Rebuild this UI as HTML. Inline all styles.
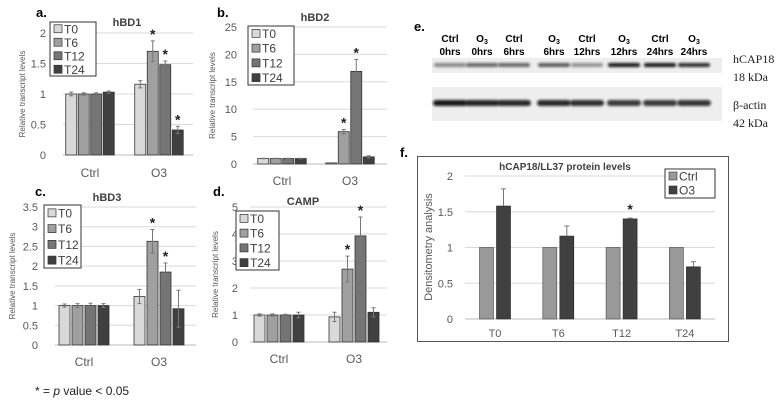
<!DOCTYPE html>
<html><head><meta charset="utf-8"><style>
body{margin:0;background:#fff;width:778px;height:408px;overflow:hidden;font-family:"Liberation Sans",sans-serif}
svg{position:absolute;left:0;top:0}
</style></head><body>
<svg id="fig" width="778" height="408" viewBox="0 0 778 408">
<defs><filter id="blur" x="-20%" y="-100%" width="140%" height="300%"><feGaussianBlur stdDeviation="1.3"/></filter></defs>
</svg>
<script>
// ---- data ----
const groupsABCD = ["Ctrl","O3"];
const seriesT = ["T0","T6","T12","T24"];
const hbd1Ctrl = [1,1,1,1.03];       const hbd1CtrlErr = [0.03,0.02,0.02,0.02];
const hbd1O3 = [1.16,1.7,1.48,0.41]; const hbd1O3Err = [0.06,0.17,0.06,0.06];
const hbd1Sig = [false,true,true,true];
const hbd1Ticks = [0,0.5,1,1.5,2];
const hbd2Ctrl = [1,1,1,1];          const hbd2CtrlErr = [0.05,0.05,0.05,0.05];
const hbd2O3 = [0.2,5.9,16.9,1.3];   const hbd2O3Err = [0,0.4,2.2,0.2];
const hbd2Sig = [false,true,true,false];
const hbd2Ticks = [0,5,10,15,20,25];
const hbd3Ctrl = [1,1,1,1];          const hbd3CtrlErr = [0.04,0.05,0.06,0.05];
const hbd3O3 = [1.23,2.63,1.85,0.92];const hbd3O3Err = [0.18,0.3,0.23,0.47];
const hbd3Sig = [false,true,true,false];
const hbd3Ticks = [0,0.5,1,1.5,2,2.5,3,3.5];
const campCtrl = [1,1,1,1];          const campCtrlErr = [0.04,0.04,0.03,0.1];
const campO3 = [0.93,2.7,3.93,1.1];  const campO3Err = [0.17,0.48,0.7,0.17];
const campSig = [false,true,true,false];
const campTicks = [0,1,2,3,4,5];
const fCats = ["T0","T6","T12","T24"];
const fSeries = ["Ctrl","O3"];
const fCtrl = [1,1,1,1];
const fO3 = [1.58,1.16,1.4,0.73];
const fO3Err = [0.24,0.14,0.01,0.07];
const fSig = [false,false,true,false];
const fTicks = [0,0.5,1,1.5,2];
const laneTop = ["Ctrl","O3","Ctrl","O3","Ctrl","O3","Ctrl","O3"];
const laneBottom = ["0hrs","0hrs","6hrs","6hrs","12hrs","12hrs","24hrs","24hrs"];
const hcapIntensity = [0.45,0.6,0.6,0.65,0.4,0.95,0.95,0.85];
const actinIntensity = [0.95,0.9,0.88,0.88,0.85,0.8,0.8,0.82];

const NS="http://www.w3.org/2000/svg";
const svg=document.getElementById('fig');
function mk(tag,attrs,parent,text){const e=document.createElementNS(NS,tag);for(const k in attrs)e.setAttribute(k,attrs[k]);if(text!==undefined)e.textContent=text;(parent||svg).appendChild(e);return e;}
const tColors=["#d9d9d9","#a0a0a0","#757575","#404040"];

function panel(cfg){
  const g=mk('g',{});
  
  
  const max=cfg.ticks[cfg.ticks.length-1];
  const y=v=>cfg.y0-(v/max)*(cfg.y0-cfg.yTop);
  cfg.ticks.forEach(t=>{
    const l=mk('line',{x1:cfg.gx0,x2:cfg.gx1,y1:y(t),y2:y(t),stroke:t===0?'#bbb':'#d9d9d9','stroke-width':1},g);
    
    const tx=mk('text',{x:cfg.tickX,y:y(t)+4,'text-anchor':'end','font-size':cfg.tfs||11,fill:'#595959'},g,String(t));
    
  });
  const groups=[[cfg.ctrl,cfg.ctrlErr,null],[cfg.o3,cfg.o3Err,cfg.sig]];
  groups.forEach((gr,gi)=>{
    const cx=cfg.gc[gi];
    const n=gr[0].length, bw=cfg.bw, gap=cfg.gap;
    const tot=n*bw+(n-1)*gap; const start=cx-tot/2;
    gr[0].forEach((v,i)=>{
      const x=start+i*(bw+gap);
      const r=mk('rect',{x:x,y:y(v),width:bw,height:cfg.y0-y(v),fill:tColors[i],stroke:'#333','stroke-width':0.8},g);
      
      
      const e=gr[1][i];
      if(e>0){const top=y(v+e),bot=y(Math.max(0,v-e)),mx=x+bw/2;
        const eb=mk('path',{d:`M${mx},${top}V${bot}M${mx-2},${top}H${mx+2}M${mx-2},${bot}H${mx+2}`,stroke:'#777','stroke-width':1,fill:'none'},g);
        }
      if(gr[2]&&gr[2][i]){const s=mk('text',{x:x+bw/2,y:y(v+e)-2,'text-anchor':'middle','font-size':14,'font-weight':'bold',fill:'#222'},g,'*');
        }
    });
    const cl=mk('text',{x:cx,y:cfg.catY,'text-anchor':'middle','font-size':12,fill:'#595959'},g,groupsABCD[gi]);
    
  });
  const yt=mk('text',{x:cfg.ytX,y:(cfg.y0+cfg.yTop)/2,'text-anchor':'middle','font-size':8,fill:'#595959',transform:`rotate(-90 ${cfg.ytX} ${(cfg.y0+cfg.yTop)/2})`},g,'Relative transcript levels');
  
  const ti=mk('text',{x:cfg.titleX,y:cfg.titleY,'text-anchor':'middle','font-size':11,'font-weight':'bold',fill:'#404040'},g,cfg.title);
  
  const pl=mk('text',{x:cfg.letX,y:cfg.letY,'font-size':13,'font-weight':'bold',fill:'#000'},g,cfg.letter);
  
  const L=cfg.leg;
  const lb=mk('rect',{x:L[0],y:L[1],width:L[2],height:L[3],fill:'#fff',stroke:'#333','stroke-width':1},g);
  
  const step=L[3]/4;
  seriesT.forEach((s,i)=>{
    const yy=L[1]+step*i+step/2;
    const sw=mk('rect',{x:L[0]+4,y:yy-4,width:8,height:8,fill:tColors[i],stroke:'#333','stroke-width':0.7},g);
    
    const lt=mk('text',{x:L[0]+14,y:yy+4.5,'font-size':12,fill:'#404040'},g,s);
    
  });
}

panel({name:'chart-hbd1',letter:'a.',letX:36,letY:17,title:'hBD1',titleX:127,titleY:26,ticks:hbd1Ticks,y0:155,yTop:33,gx0:63,gx1:193,tickX:46,ytX:25,gc:[90,159],bw:11,gap:1.5,catY:177,
  ctrl:hbd1Ctrl,ctrlErr:hbd1CtrlErr,o3:hbd1O3,o3Err:hbd1O3Err,sig:hbd1Sig,leg:[50,22,46,54]});
panel({name:'chart-hbd2',letter:'b.',letX:217,letY:17,title:'hBD2',titleX:315,titleY:21,ticks:hbd2Ticks,y0:164,yTop:27,gx0:253,gx1:387,tickX:237,ytX:215,gc:[282,350],bw:11,gap:1.5,catY:185,
  ctrl:hbd2Ctrl,ctrlErr:hbd2CtrlErr,o3:hbd2O3,o3Err:hbd2O3Err,sig:hbd2Sig,leg:[248,26,46,59]});
panel({name:'chart-hbd3',letter:'c.',letX:35,letY:196,title:'hBD3',titleX:107,titleY:201,ticks:hbd3Ticks,y0:345,yTop:207,gx0:55,gx1:196,tickX:38,ytX:15,gc:[84,159],bw:11,gap:2,catY:366,
  ctrl:hbd3Ctrl,ctrlErr:hbd3CtrlErr,o3:hbd3O3,o3Err:hbd3O3Err,sig:hbd3Sig,leg:[44,205,37,63]});
panel({name:'chart-camp',letter:'d.',letX:213,letY:196,title:'CAMP',titleX:303,titleY:205,ticks:campTicks,y0:342,yTop:207,gx0:250,gx1:387,tickX:238,ytX:218,gc:[279,354],bw:11,gap:2,catY:363,
  ctrl:campCtrl,ctrlErr:campCtrlErr,o3:campO3,o3Err:campO3Err,sig:campSig,leg:[236,211,43,59]});

const fn=mk('text',{x:35,y:395,'font-size':12,fill:'#222'},svg);

fn.innerHTML='* = <tspan font-style="italic">p</tspan> value &lt; 0.05';

// ---- panel e: western blot ----
(function(){
  const g=mk('g',{});
  const le=mk('text',{x:414,y:31,'font-size':13,'font-weight':'bold'},g,'e.');
  const b1=mk('rect',{x:432,y:58,width:290,height:15,fill:'#eeeeee'},g);
  const b2=mk('rect',{x:432,y:87,width:290,height:34,fill:'#eeeeee'},g);
  const lx=[450,482,514,554,587,624,660,694];
  laneTop.forEach((t,i)=>{
    const a=mk('text',{x:lx[i],y:42,'text-anchor':'middle','font-size':10,'font-weight':'bold'},g);
    
    if(t==='O3'){a.innerHTML='O<tspan font-size="7" dy="2">3</tspan>';}else a.textContent=t;
    const bb=mk('text',{x:lx[i],y:55,'text-anchor':'middle','font-size':10,'font-weight':'bold'},g,laneBottom[i]);
    
    const h=mk('rect',{x:lx[i]-16,y:63,width:32,height:4,rx:2,fill:'#111',opacity:hcapIntensity[i],filter:'url(#blur)'},g);
    
    const ac=mk('rect',{x:lx[i]-17,y:100,width:34,height:6,rx:3,fill:'#111',opacity:actinIntensity[i],filter:'url(#blur)'},g);
    
  });
  [['hCAP18',63],['18 kDa',81],['β-actin',109],['42 kDa',127]].forEach(([t,yy])=>{
    const x=mk('text',{x:733,y:yy,'font-size':12,'font-family':'Liberation Serif, serif',fill:'#222'},g,t);
    
  });
})();

// ---- panel f ----
(function(){
  const g=mk('g',{});
  const le=mk('text',{x:400,y:157,'font-size':13,'font-weight':'bold'},g,'f.');
  const fr=mk('rect',{x:417.5,y:156.5,width:311,height:185,fill:'none',stroke:'#555','stroke-width':1},g);
  const y0=319,yT=176,max=fTicks[fTicks.length-1];const y=v=>y0-(v/max)*(y0-yT);
  fTicks.forEach(t=>{
    const l=mk('line',{x1:465,x2:715,y1:y(t),y2:y(t),stroke:t===0?'#bbb':'#d9d9d9'},g);
    const tx=mk('text',{x:453,y:y(t)+4,'text-anchor':'end','font-size':11,fill:'#595959'},g,String(t));
  });
  const x0=495,dx=63.3,bw=14;
  fCats.forEach((c,i)=>{
    const cx=x0+i*dx;
    const r1=mk('rect',{x:cx-bw-1.5,y:y(fCtrl[i]),width:bw,height:y0-y(fCtrl[i]),fill:'#999',stroke:'#444','stroke-width':0.6},g);
    
    const r2=mk('rect',{x:cx+1.5,y:y(fO3[i]),width:bw,height:y0-y(fO3[i]),fill:'#404040',stroke:'#222','stroke-width':0.6},g);
    
    const mx=cx+1.5+bw/2,top=y(fO3[i]+fO3Err[i]);
    const eb=mk('path',{d:`M${mx},${top}V${y(fO3[i])}M${mx-2.5},${top}H${mx+2.5}`,stroke:'#777','stroke-width':1,fill:'none'},g);
    
    if(fSig[i]){const s=mk('text',{x:mx,y:top-4,'text-anchor':'middle','font-size':14,'font-weight':'bold',fill:'#222'},g,'*');}
    const cl=mk('text',{x:cx,y:337,'text-anchor':'middle','font-size':11,fill:'#595959'},g,c);
  });
  const yt=mk('text',{x:432,y:247,'text-anchor':'middle','font-size':11,fill:'#595959',transform:'rotate(-90 432 247)'},g,'Densitometry analysis');
  
  const ti=mk('text',{x:565,y:170,'text-anchor':'middle','font-size':10,'font-weight':'bold',fill:'#404040'},g,'hCAP18/LL37 protein levels');
  
  const lb=mk('rect',{x:665,y:169,width:50,height:29,fill:'#fff',stroke:'#333'},g);
  fSeries.forEach((s,i)=>{
    const yy=176+i*14;
    const sw=mk('rect',{x:669,y:yy-4,width:8,height:8,fill:i?'#404040':'#999',stroke:'#333','stroke-width':0.6},g);
    const t=mk('text',{x:679,y:yy+4.5,'font-size':12,fill:'#404040'},g,s);
  });
})();
</script>
</body></html>
